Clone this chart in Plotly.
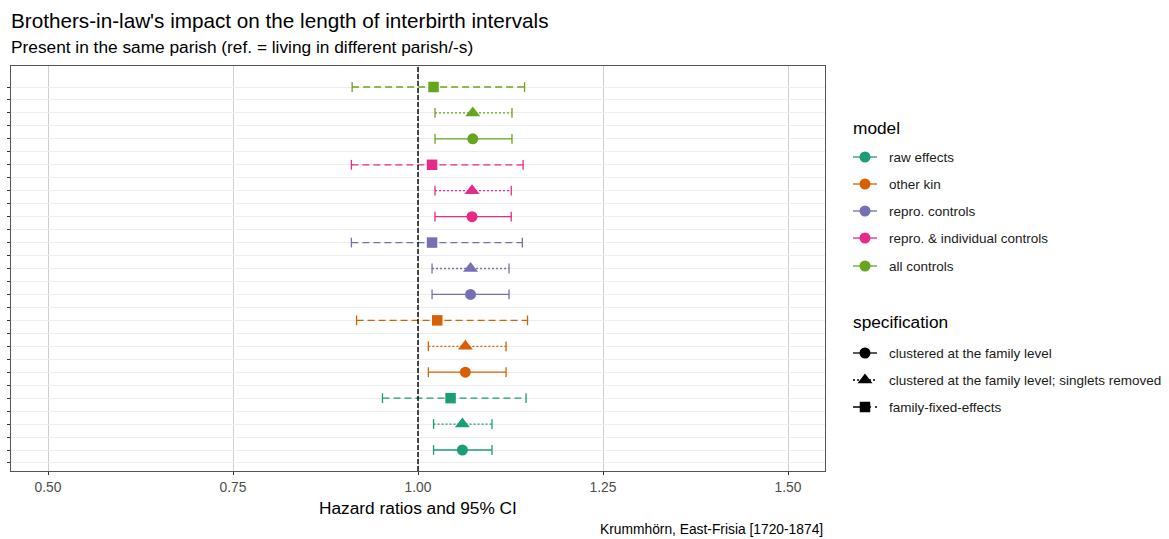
import plotly.graph_objects as go

# ---- data -------------------------------------------------------------
models = ["raw effects", "other kin", "repro. controls",
          "repro. & individual controls", "all controls"]
model_colors = ["#1B9E77", "#D95F02", "#7570B3", "#E7298A", "#66A61E"]

specs = ["clustered at the family level",
         "clustered at the family level; singlets removed",
         "family-fixed-effects"]
spec_symbols = ["circle", "triangle-up", "square"]
spec_sizes = [11, 13, 10.5]
spec_dash = ["solid", "2px,2px", "7px,4px"]

# hazard ratios and 95% CI bounds, one value per model (order as `models`)
hr_clustered = [1.060, 1.064, 1.071, 1.073, 1.074]
lo_clustered = [1.021, 1.014, 1.019, 1.023, 1.023]
hi_clustered = [1.100, 1.119, 1.123, 1.126, 1.127]

hr_singlets = [1.060, 1.064, 1.071, 1.073, 1.074]
lo_singlets = [1.021, 1.014, 1.019, 1.023, 1.023]
hi_singlets = [1.100, 1.119, 1.123, 1.126, 1.127]

hr_fixed = [1.044, 1.026, 1.019, 1.019, 1.021]
lo_fixed = [0.952, 0.917, 0.910, 0.910, 0.911]
hi_fixed = [1.146, 1.148, 1.141, 1.142, 1.144]

x_ticks = [0.50, 0.75, 1.00, 1.25, 1.50]
x_ticklabels = ["0.50", "0.75", "1.00", "1.25", "1.50"]

estimates = [hr_clustered, hr_singlets, hr_fixed]
lowers = [lo_clustered, lo_singlets, lo_fixed]
uppers = [hi_clustered, hi_singlets, hi_fixed]

FONT = "Liberation Sans, Arial, sans-serif"
W, H = 1169, 539
ML, MR, MT, MB = 11, 5, 66, 68
PANEL_RIGHT = 825
plot_w = W - ML - MR
plot_h = H - MT - MB
main_dom = (PANEL_RIGHT - ML) / plot_w


def py(p):
    """pixel row -> paper y"""
    return (H - MB - p) / plot_h


fig = go.Figure()

# ---- forest plot: one row per model x specification, with spacer rows ---
n_rows = 2 * len(models) * len(specs)
for m, (model, col) in enumerate(zip(models, model_colors)):
    for s in range(len(specs)):
        row = 1 + 2 * (3 * m + s)
        lo, hi, est = lowers[s][m], uppers[s][m], estimates[s][m]
        # interval with end caps
        fig.add_trace(go.Scatter(
            x=[lo, hi], y=[row, row], mode="lines+markers",
            line=dict(color=col, width=1.3, dash=spec_dash[s]),
            marker=dict(symbol="line-ns", size=7,
                        line=dict(color=col, width=1.3)),
            showlegend=False, hoverinfo="skip"))
        # point estimate
        fig.add_trace(go.Scatter(
            x=[est], y=[row], mode="markers",
            marker=dict(symbol=spec_symbols[s], size=spec_sizes[s],
                        color=col, line=dict(width=0)),
            showlegend=False,
            hovertemplate=f"{model}<br>{specs[s]}<br>HR %{{x:.3f}}"
                          f"<br>95% CI [{lo:.3f}, {hi:.3f}]<extra></extra>"))

# reference line at HR = 1
fig.add_shape(type="line", xref="x", yref="y domain", x0=1, x1=1, y0=0, y1=1,
              line=dict(color="black", width=1.4, dash="5px,2px"))

# ---- legend keys drawn on a pixel-scaled helper axis --------------------
key_x0, key_x1, key_mid, txt_x = 853, 877, 865, 887
model_rows = [157, 184, 211, 238, 266]
spec_rows = [353, 380, 407]
LEG_SIZE = 13.5

for col, yy, name in zip(model_colors, model_rows, models):
    fig.add_trace(go.Scatter(
        x=[key_x0, key_x1], y=[yy, yy], mode="lines", xaxis="x2", yaxis="y2",
        line=dict(color=col, width=1.3), showlegend=False, hoverinfo="skip"))
    fig.add_trace(go.Scatter(
        x=[key_mid], y=[yy], mode="markers", xaxis="x2", yaxis="y2",
        marker=dict(symbol="circle", size=11, color=col),
        showlegend=False, hoverinfo="skip"))
    fig.add_annotation(x=txt_x, y=yy, xref="x2", yref="y2", text=name,
                       showarrow=False, xanchor="left", yanchor="middle",
                       font=dict(family=FONT, size=LEG_SIZE, color="#1a1a1a"))

for s, (yy, name) in enumerate(zip(spec_rows, specs)):
    fig.add_trace(go.Scatter(
        x=[key_x0, key_x1], y=[yy, yy], mode="lines", xaxis="x2", yaxis="y2",
        line=dict(color="black", width=1.3, dash=spec_dash[s]),
        showlegend=False, hoverinfo="skip"))
    fig.add_trace(go.Scatter(
        x=[key_mid], y=[yy], mode="markers", xaxis="x2", yaxis="y2",
        marker=dict(symbol=spec_symbols[s], size=spec_sizes[s], color="black"),
        showlegend=False, hoverinfo="skip"))
    fig.add_annotation(x=txt_x, y=yy, xref="x2", yref="y2", text=name,
                       showarrow=False, xanchor="left", yanchor="middle",
                       font=dict(family=FONT, size=LEG_SIZE, color="#1a1a1a"))

for yy, name in [(128, "model"), (322, "specification")]:
    fig.add_annotation(x=851, y=yy, xref="x2", yref="y2", text=name,
                       showarrow=False, xanchor="left", yanchor="middle",
                       font=dict(family=FONT, size=17.3, color="black"))

# ---- titles and captions ----------------------------------------------
def add_text(text, xp, yp, size, anchor="left", color="black"):
    fig.add_annotation(x=(xp - ML) / plot_w, y=py(yp), xref="paper",
                       yref="paper", text=text, showarrow=False,
                       xanchor=anchor, yanchor="middle",
                       font=dict(family=FONT, size=size, color=color))


add_text("Brothers-in-law's impact on the length of interbirth intervals",
         9, 21, 20.7)
add_text("Present in the same parish (ref. = living in different parish/-s)",
         9, 47, 17.3)
add_text("Hazard ratios and 95% CI", 418, 508, 17.3, anchor="center")
add_text("Krummhörn, East-Frisia [1720-1874]", PANEL_RIGHT, 529, 13.8,
         anchor="right")

# ---- layout -------------------------------------------------------------
fig.update_layout(
    width=W, height=H,
    margin=dict(l=ML, r=MR, t=MT, b=MB),
    paper_bgcolor="white", plot_bgcolor="white",
    showlegend=False,
    font=dict(family=FONT, color="#4d4d4d"),
    xaxis=dict(
        domain=[0, main_dom], range=[0.45, 1.55],
        tickvals=x_ticks, ticktext=x_ticklabels,
        tickfont=dict(family=FONT, size=13.8, color="#4d4d4d"),
        ticks="outside", ticklen=3, tickcolor="#333333", tickwidth=1,
        showgrid=True, gridcolor="#cfcfcf", gridwidth=1,
        zeroline=False, showline=True, mirror=True,
        linecolor="#555555", linewidth=1),
    yaxis=dict(
        range=[-0.62, n_rows + 0.62],
        tickvals=list(range(n_rows)), ticktext=[""] * n_rows,
        ticks="outside", ticklen=3, tickcolor="#333333", tickwidth=1,
        showgrid=True, gridcolor="#ededed", gridwidth=1,
        zeroline=False, showline=True, mirror=True,
        linecolor="#555555", linewidth=1),
    xaxis2=dict(domain=[(840 - ML) / plot_w, 1], range=[840, W - MR],
                anchor="y2", visible=False, fixedrange=True),
    yaxis2=dict(domain=[0, 1], range=[H - MB, MT], anchor="x2",
                visible=False, fixedrange=True),
)

fig.write_html("out.html")
